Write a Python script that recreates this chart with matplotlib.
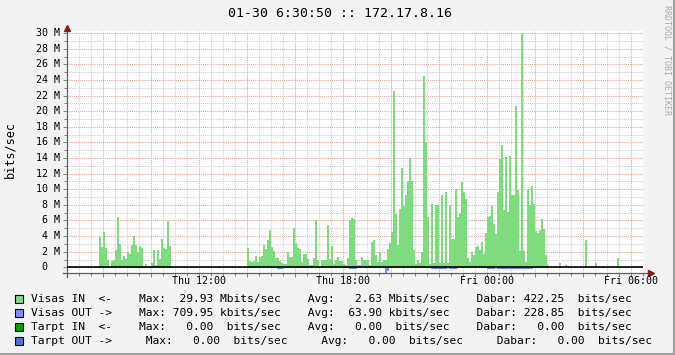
import numpy as np
import matplotlib
matplotlib.use('Agg')
import matplotlib.pyplot as plt
from matplotlib.ticker import MultipleLocator
from matplotlib.patches import Rectangle
from matplotlib.lines import Line2D

# RRDtool style traffic graph, values in Mbits/sec, time in hours since Thu 00:00
step = 5 / 60.0

# Visas IN (green) per 5 min, split in runs of data
seg1_start = 7.75      # Thu 07:45
seg1_in = [0.1, 3.9, 2.6, 4.5, 2.5, 1.0, 0.05, 0.8, 0.9, 2.2,
           6.5, 3.0, 1.0, 1.4, 1.1, 2.0, 1.7, 2.9, 4.0, 2.9,
           2.0, 2.7, 2.5, 0.1, 0.4, 0.0, 0.1, 0.55, 2.2, 0.35,
           2.2, 1.1, 3.6, 2.5, 2.4, 5.9, 2.7, 0.1]
seg1_out = [0.03, 0.03, 0.03, 0.03, 0.03, 0.15, 0.03, 0.03, 0.03, 0.03,
            0.03, 0.03, 0.03, 0.03, 0.03, 0.03, 0.03, 0.03, 0.03, 0.03,
            0.03, 0.03, 0.03, 0.03, 0.03, 0.03, 0.03, 0.03, 0.03, 0.03,
            0.03, 0.03, 0.03, 0.03, 0.03, 0.03, 0.03, 0.03]

seg2_start = 14.0      # Thu 14:00
seg2_in = [2.5, 0.75, 0.7, 0.75, 1.5, 0.7, 1.3, 1.4, 2.9, 2.3,
           3.5, 4.8, 2.6, 2.1, 1.2, 1.2, 0.75, 0.55, 0.4, 0.4,
           1.9, 1.3, 1.3, 5.0, 3.1, 2.5, 2.4, 0.7, 1.7, 1.7,
           1.1, 0.35, 0.35, 1.2, 6.0, 0.9, 0.05, 0.9, 0.9, 0.9,
           5.4, 1.1, 2.7, 0.4, 0.9, 1.3, 0.85]
seg2_out = [0.03, 0.03, 0.03, 0.03, 0.03, 0.03, 0.03, 0.03, 0.03, 0.03,
            0.03, 0.03, 0.03, 0.03, 0.03, 0.17, 0.17, 0.17, 0.03, 0.03,
            0.03, 0.03, 0.03, 0.03, 0.03, 0.03, 0.03, 0.03, 0.03, 0.03,
            0.03, 0.03, 0.03, 0.03, 0.15, 0.03, 0.03, 0.03, 0.03, 0.03,
            0.15, 0.03, 0.15, 0.15, 0.15, 0.15, 0.03]

seg3_start = 17 + 55 / 60.0   # Thu 17:55
seg3_in = [0.8, 0.4, 0.35, 1.15, 6.1, 6.3, 6.2, 1.0, 0.25, 0.25,
           1.3, 1.0, 1.0, 1.0, 0.25, 3.25, 3.5, 1.6, 0.7, 1.9,
           0.7, 1.0, 0.9, 2.3, 3.1, 4.5, 22.6, 6.8, 2.9, 7.5,
           12.7, 7.9, 9.3, 11.1, 14.0, 11.1, 2.2, 0.4, 0.9]
seg3_out = [0.04, 0.04, 0.04, 0.04, 0.18, 0.18, 0.18, 0.18, 0.04, 0.04,
            0.04, 0.04, 0.04, 0.04, 0.04, 0.04, 0.04, 0.04, 0.04, 0.04,
            0.04, 0.04, 0.70, 0.45, 0.04, 0.15, 0.04, 0.15, 0.04, 0.04,
            0.04, 0.04, 0.04, 0.15, 0.15, 0.15, 0.15, 0.04, 0.04]

seg4_start = 21 + 10 / 60.0   # Thu 21:10
seg4_in = [0.5, 1.9, 24.5, 16.0, 6.4, 0.45, 8.1, 0.5, 8.0, 8.0,
           0.5, 9.3, 0.5, 9.6, 0.6, 8.0, 3.6, 3.6, 10.0, 6.4,
           7.0, 10.9, 9.6, 8.8, 1.15, 0.7, 2.0, 1.6, 2.6, 2.7,
           2.2, 3.3, 1.7, 4.4, 6.5, 6.6, 7.9, 5.6, 4.3, 9.7,
           13.9]
seg4_out = [0.04, 0.04, 0.15, 0.15, 0.15, 0.04, 0.18, 0.18, 0.18, 0.18,
            0.18, 0.18, 0.18, 0.18, 0.04, 0.18, 0.18, 0.18, 0.18, 0.04,
            0.15, 0.15, 0.15, 0.15, 0.15, 0.04, 0.04, 0.04, 0.04, 0.04,
            0.04, 0.04, 0.04, 0.04, 0.18, 0.18, 0.18, 0.18, 0.04, 0.18,
            0.18]

seg5_start = 24 + 35 / 60.0   # Fri 00:35
seg5_in = [15.7, 7.3, 14.2, 7.1, 14.3, 9.3, 9.3, 20.7, 9.9, 2.1,
           29.93, 2.1, 0.65, 9.9, 8.0, 10.4, 8.1, 4.65, 4.35, 4.8,
           6.2, 4.9, 1.6, 0.3]
seg5_out = [0.18, 0.18, 0.18, 0.18, 0.28, 0.28, 0.28, 0.28, 0.28, 0.18,
            0.18, 0.18, 0.18, 0.18, 0.18, 0.18, 0.04, 0.04, 0.04, 0.04,
            0.04, 0.04, 0.04, 0.04]

# a few lone samples early Friday
tail_times = [27.0, 27.25, 28 + 5 / 60.0, 28 + 10 / 60.0, 28.5, 29 + 25 / 60.0, 29.5]
tail_in = [0.6, 0.3, 3.5, 0.17, 0.6, 1.15, 0.1]

xticks_pos = [12, 18, 24, 30]
xticks_lab = ["Thu 12:00", "Thu 18:00", "Fri 00:00", "Fri 06:00"]

legend_rows = [
    "Visas IN  <-    Max:  29.93 Mbits/sec    Avg:   2.63 Mbits/sec    Dabar: 422.25  bits/sec",
    "Visas OUT ->    Max: 709.95 kbits/sec    Avg:  63.90 kbits/sec    Dabar: 228.85  bits/sec",
    "Tarpt IN  <-    Max:   0.00  bits/sec    Avg:   0.00  bits/sec    Dabar:   0.00  bits/sec",
    "Tarpt OUT ->     Max:   0.00  bits/sec     Avg:   0.00  bits/sec     Dabar:   0.00  bits/sec",
]
legend_colors = ["#7ddc7d", "#8090ff", "#00a000", "#5573cc"]

green = "#7ddc7d"
blue = "#7b8cff"
mono = "DejaVu Sans Mono"
W, H = 675, 355

fig = plt.figure(figsize=(W / 100, H / 100), dpi=100, facecolor="#f3f3f3")
ax = fig.add_axes([67 / W, 1 - 273 / H, 576 / W, 242 / H])
ax.set_facecolor("white")
ax.set_xlim(6.5125, 30.5125)
ax.set_ylim(-0.73, 30.29)

starts = [seg1_start, seg2_start, seg3_start, seg4_start, seg5_start]
ins = [seg1_in, seg2_in, seg3_in, seg4_in, seg5_in]
outs = [seg1_out, seg2_out, seg3_out, seg4_out, seg5_out]
for s, vin, vout in zip(starts, ins, outs):
    t = s + step * np.arange(len(vin))
    ax.bar(t, vin, width=step, align="edge", color=green, linewidth=0, zorder=2)
    ax.bar(t, -np.array(vout), width=step, align="edge", color=blue, linewidth=0, zorder=2)
ax.bar(tail_times, tail_in, width=step, align="edge", color=green, linewidth=0, zorder=2)

ax.axhline(0, color="black", lw=1.2, zorder=3)

# grid
ax.xaxis.set_major_locator(MultipleLocator(2))
ax.xaxis.set_minor_locator(MultipleLocator(0.5))
ax.yaxis.set_major_locator(MultipleLocator(2))
ax.yaxis.set_minor_locator(MultipleLocator(1))
ax.grid(which="minor", color="#cfcfcf", lw=0.75, ls=(0, (1, 1)), zorder=0)
ax.grid(which="major", color="#e8a0a0", lw=0.75, ls=(0, (1, 1)), zorder=1)
ax.set_axisbelow(True)
ax.tick_params(which="both", labelbottom=False, labelleft=False, direction="out",
               color="#808080", width=0.7)
ax.tick_params(which="major", length=3)
ax.tick_params(which="minor", length=2)
for sp in ax.spines.values():
    sp.set_visible(False)

# axis lines with arrows
ax.plot([-0.007, 1.012], [0, 0], transform=ax.transAxes, color="#606060", lw=0.9, clip_on=False)
ax.plot([0, 0], [-0.016, 1.005], transform=ax.transAxes, color="#606060", lw=0.9, clip_on=False)
ax.plot([1.014], [0], transform=ax.transAxes, marker=">", color="#8b1a1a", ms=4, clip_on=False)
ax.plot([0], [1.012], transform=ax.transAxes, marker="^", color="#8b1a1a", ms=4, clip_on=False)

# tick labels
for h, lab in zip(xticks_pos, xticks_lab):
    ax.text(h, -0.033, lab, transform=ax.get_xaxis_transform(), ha="center", va="center",
            fontsize=7.2, family=mono, color="black")
for v in range(0, 31, 2):
    lab = f"{v:2d} M" if v > 0 else " 0"
    ax.text(-0.0538, v, lab, transform=ax.get_yaxis_transform(), ha="left", va="center",
            fontsize=7.2, family=mono, color="black")

# titles
fig.text(340.5 / W, 1 - 13.5 / H, "01-30 6:30:50 :: 172.17.8.16", ha="center", va="center",
         fontsize=9.5, family=mono)
fig.text(10 / W, 1 - 150 / H, "bits/sec", rotation=90, ha="center", va="center",
         fontsize=8.5, family=mono)
fig.text(667 / W, 1 - 5 / H, "RRDTOOL / TOBI OETIKER", rotation=270, ha="center", va="top",
         fontsize=6, family=mono, color="#a8a8a8")

# legend
row_y = [299, 313, 327, 341]
for y, txt, col in zip(row_y, legend_rows, legend_colors):
    fig.add_artist(Rectangle((15 / W, 1 - (y + 4) / H), 8 / W, 8 / H, facecolor=col,
                             edgecolor="black", lw=0.8, transform=fig.transFigure))
    fig.text(31 / W, 1 - y / H, txt, ha="left", va="center", fontsize=8.1, family=mono)

# 3d frame
fig.add_artist(Line2D([0, 1], [1 - 353.5 / H, 1 - 353.5 / H], color="#a0a0a0", lw=1.5,
                      transform=fig.transFigure))
fig.add_artist(Line2D([1 - 1.5 / W, 1 - 1.5 / W], [0, 1], color="#a0a0a0", lw=1.5,
                      transform=fig.transFigure))

fig.savefig("out.png", dpi=100, facecolor=fig.get_facecolor())
